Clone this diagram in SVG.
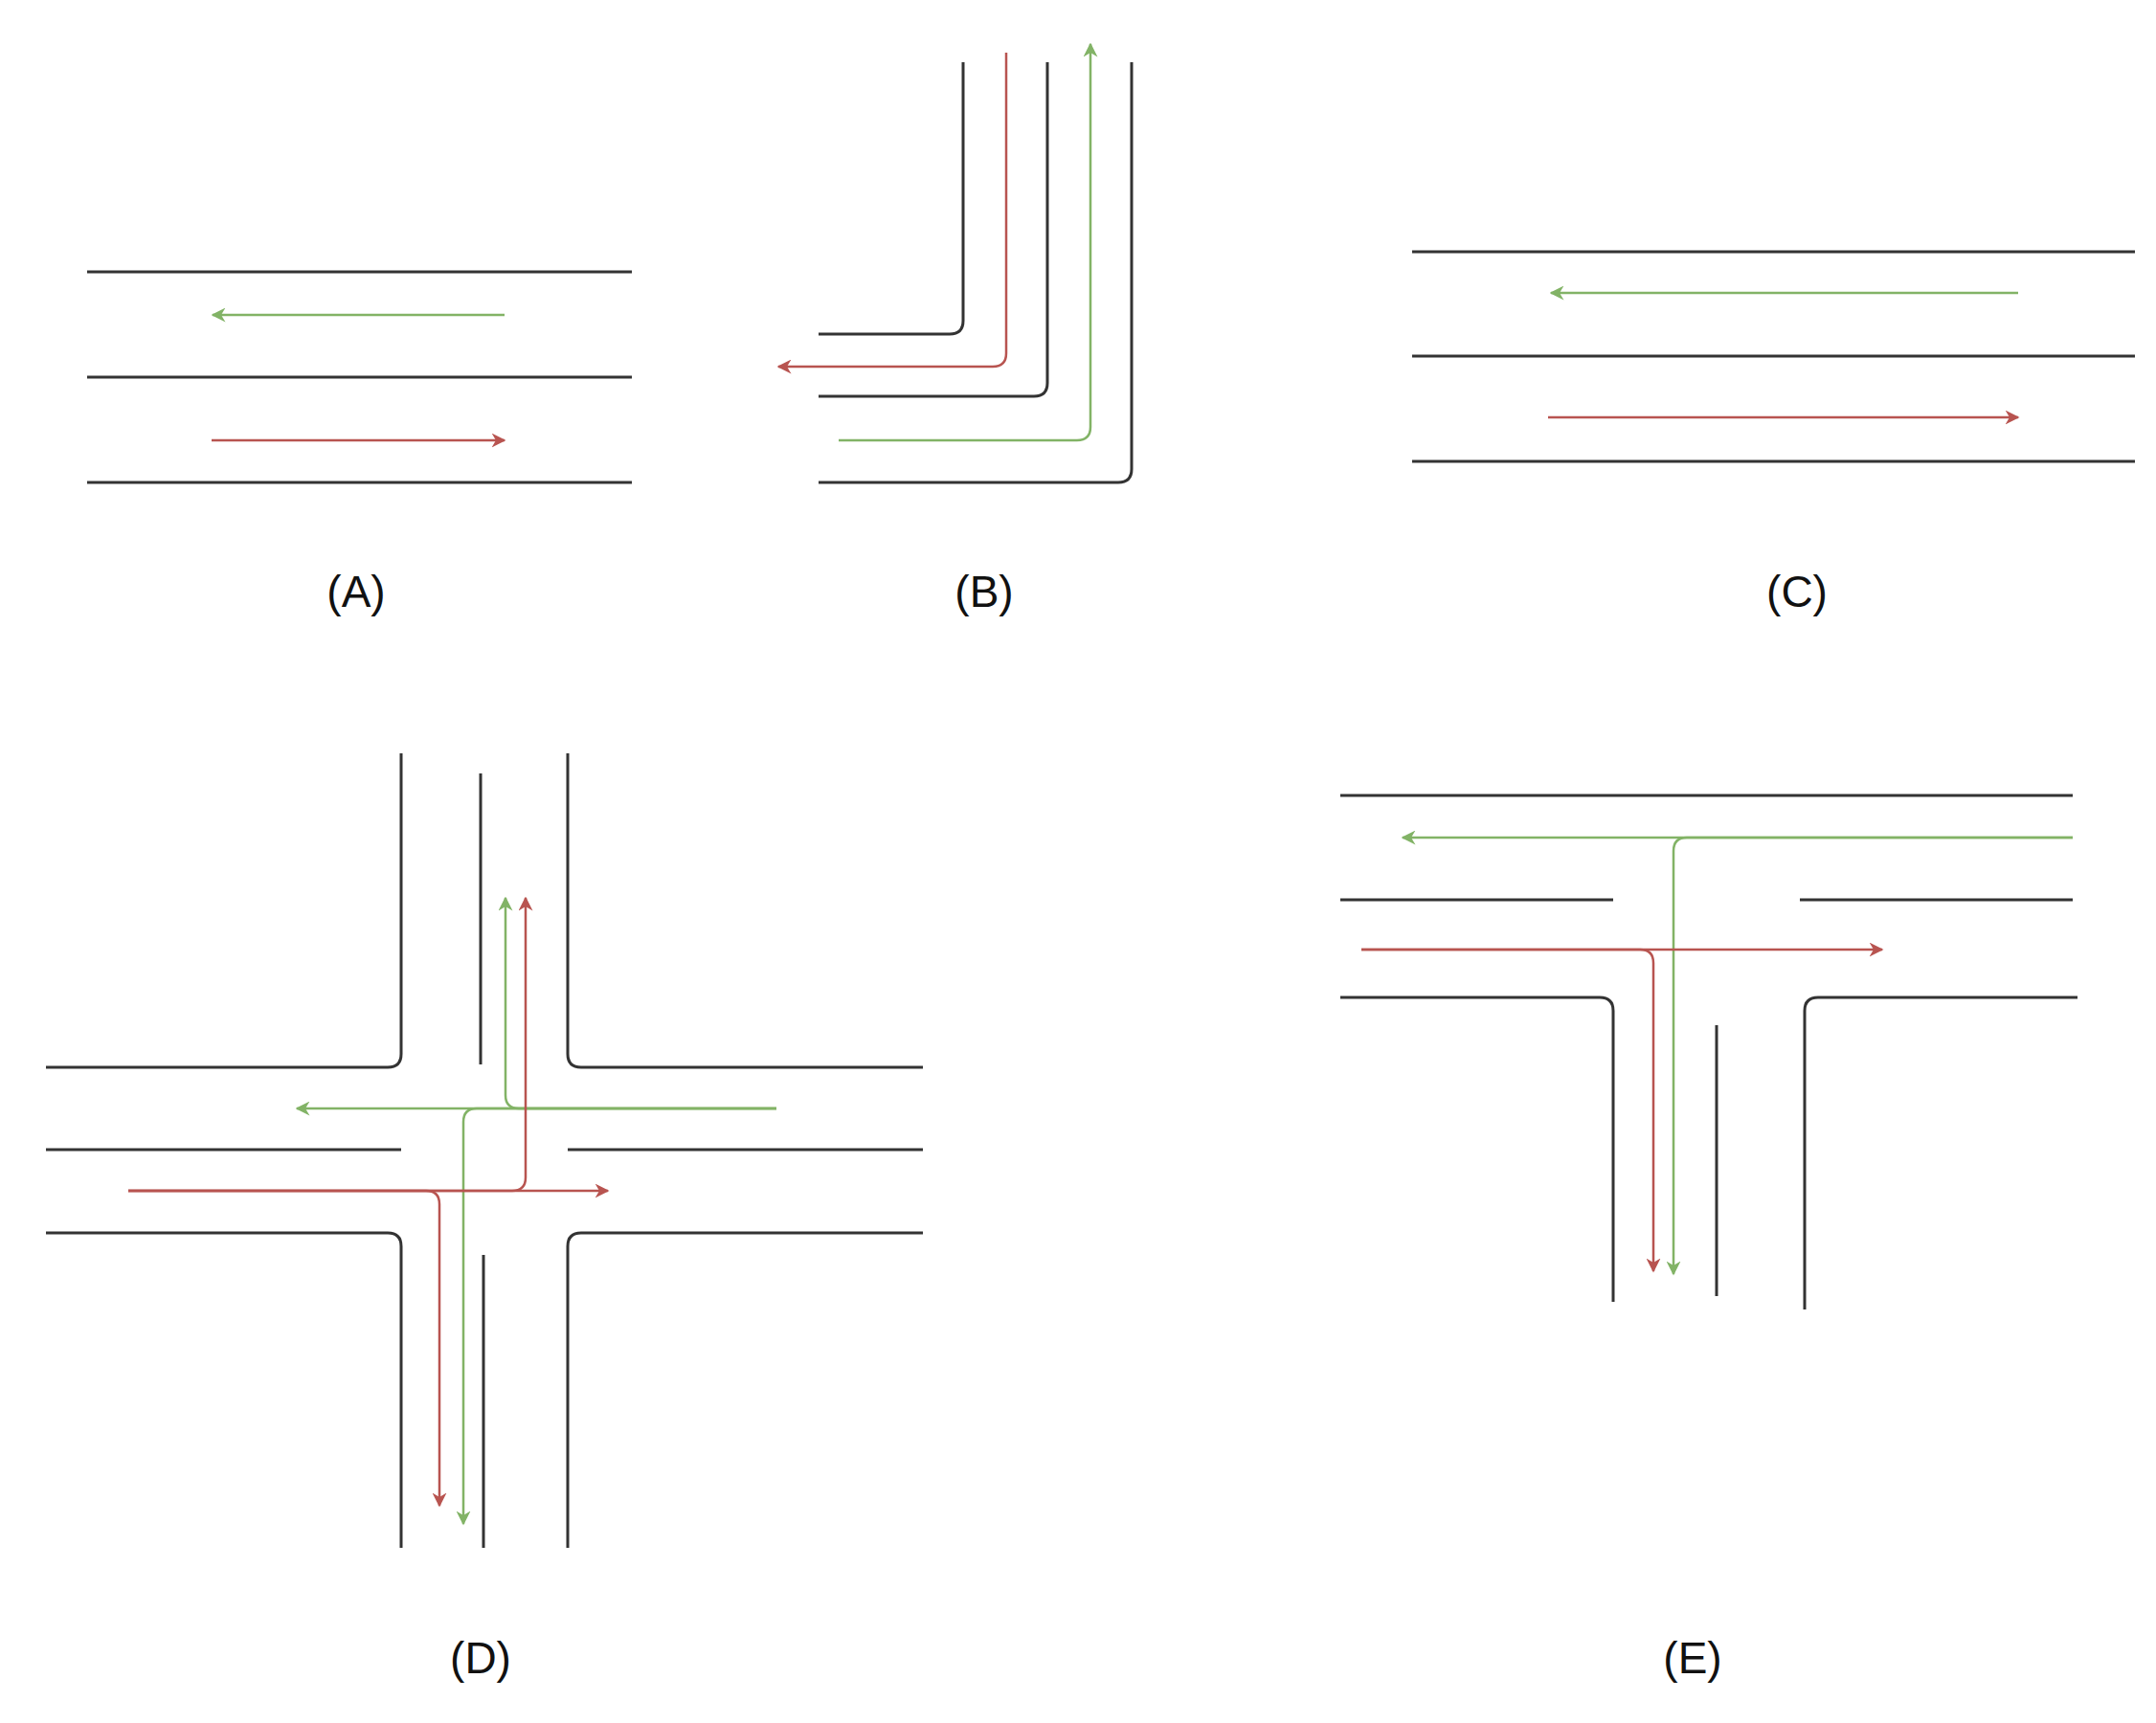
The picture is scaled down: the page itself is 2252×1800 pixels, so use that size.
<svg xmlns="http://www.w3.org/2000/svg" width="2252" height="1800" viewBox="0 0 2252 1800">
<style>
.k{fill:none;stroke:#333;stroke-width:3}
.g{fill:none;stroke:#82b366;stroke-width:2.5;marker-end:url(#ag)}
.gn{fill:none;stroke:#82b366;stroke-width:2.5}
.r{fill:none;stroke:#b85450;stroke-width:2.5;marker-end:url(#ar)}
.rn{fill:none;stroke:#b85450;stroke-width:2.5}
.t{font-family:"Liberation Sans",Arial,sans-serif;font-size:46px;fill:#111;text-anchor:middle}
</style>
<defs>
<marker id="ag" viewBox="0 0 10 10" refX="9" refY="5" markerWidth="6" markerHeight="6" orient="auto" markerUnits="strokeWidth"><path d="M0,0L10,5L0,10L3,5z" fill="#82b366"/></marker>
<marker id="ar" viewBox="0 0 10 10" refX="9" refY="5" markerWidth="6" markerHeight="6" orient="auto" markerUnits="strokeWidth"><path d="M0,0L10,5L0,10L3,5z" fill="#b85450"/></marker>
</defs>
<rect width="2252" height="1800" fill="#fff"/>
<g id="A">
<path class="k" d="M91,284H660M91,394H660M91,504H660"/>
<path class="g" d="M527,329H222"/>
<path class="r" d="M221,460H527"/>
<text class="t" x="372" y="634">(A)</text>
</g>
<g id="B">
<path class="k" d="M1006,65V335Q1006,349 992,349H855"/>
<path class="k" d="M1094,65V400Q1094,414 1080,414H855"/>
<path class="k" d="M1182,65V490Q1182,504 1168,504H855"/>
<path class="r" d="M1051,55V369Q1051,383 1037,383H813"/>
<path class="g" d="M876,460H1125Q1139,460 1139,446V46"/>
<text class="t" x="1028" y="634">(B)</text>
</g>
<g id="C">
<path class="k" d="M1475,263H2230M1475,372H2230M1475,482H2230"/>
<path class="g" d="M2108,306H1620"/>
<path class="r" d="M1617,436H2108"/>
<text class="t" x="1877" y="634">(C)</text>
</g>
<g id="D">
<path class="k" d="M419,787V1101Q419,1115 405,1115H48"/>
<path class="k" d="M593,787V1101Q593,1115 607,1115H964"/>
<path class="k" d="M502,808V1112"/>
<path class="k" d="M48,1201H419M593,1201H964"/>
<path class="k" d="M48,1288H405Q419,1288 419,1302V1617"/>
<path class="k" d="M964,1288H607Q593,1288 593,1302V1617"/>
<path class="k" d="M505,1311V1617"/>
<path class="g" d="M811,1158H310"/>
<path class="g" d="M811,1158H542Q528,1158 528,1144V938"/>
<path class="g" d="M811,1158H498Q484,1158 484,1172V1592"/>
<path class="r" d="M134,1244H635"/>
<path class="r" d="M134,1244H535Q549,1244 549,1230V938"/>
<path class="r" d="M134,1244H445Q459,1244 459,1258V1573"/>
<text class="t" x="502" y="1748">(D)</text>
</g>
<g id="E">
<path class="k" d="M1400,831H2165"/>
<path class="k" d="M1400,940H1685M1880,940H2165"/>
<path class="k" d="M1400,1042H1671Q1685,1042 1685,1056V1360"/>
<path class="k" d="M2170,1042H1899Q1885,1042 1885,1056V1368"/>
<path class="k" d="M1793,1071V1354"/>
<path class="g" d="M2165,875H1465"/>
<path class="g" d="M2165,875H1762Q1748,875 1748,889V1331"/>
<path class="r" d="M1422,992H1966"/>
<path class="r" d="M1422,992H1713Q1727,992 1727,1006V1328"/>
<text class="t" x="1768" y="1748">(E)</text>
</g>
</svg>
